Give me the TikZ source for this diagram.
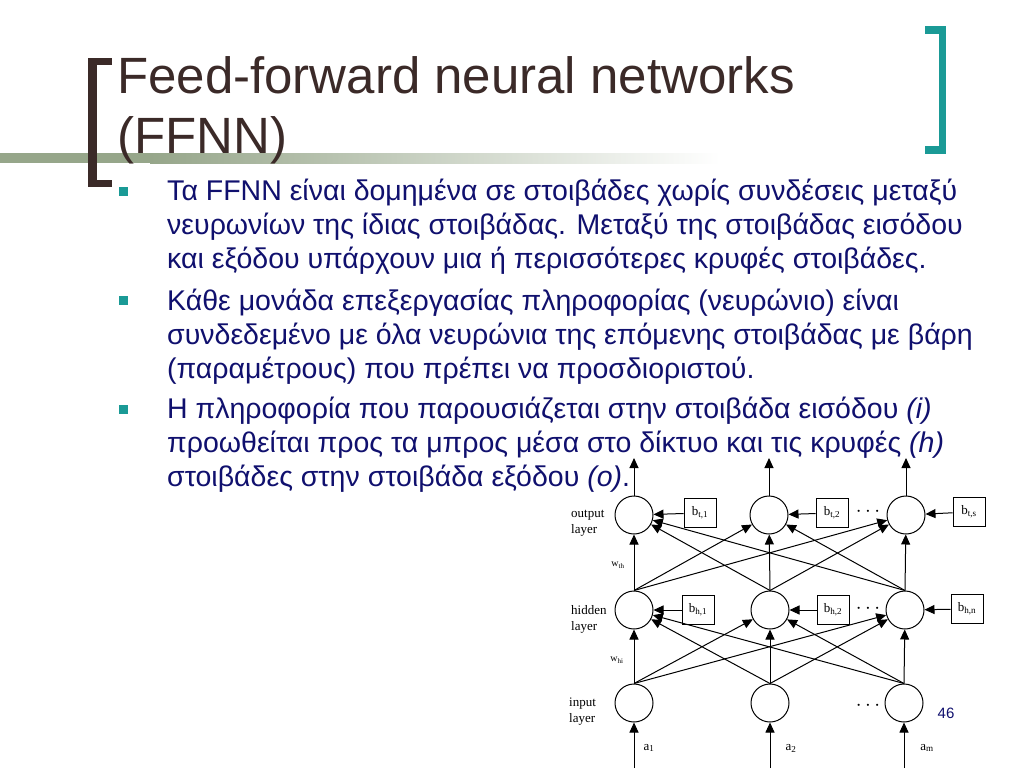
\documentclass[tikz,border=0pt]{standalone}
\usepackage{fontspec}
\setmainfont{Liberation Sans}
\newfontfamily\tms{Liberation Serif}
\usetikzlibrary{arrows.meta}
\definecolor{titlec}{RGB}{59,42,40}
\definecolor{bodyc}{RGB}{16,16,110}
\definecolor{tealc}{RGB}{26,154,150}
\definecolor{barc}{RGB}{150,166,138}
\begin{document}
\begin{tikzpicture}[x=1pt,y=-1pt,
  neuron/.style={circle, draw, line width=1pt, minimum size=38pt, inner sep=0pt},
  biasbox/.style={draw, line width=1pt, minimum width=32pt, minimum height=29pt, inner sep=0pt, font=\tms\fontsize{13}{13}\selectfont},
  conn/.style={line width=1pt, -{Triangle[length=10pt,width=9pt]}},
  lbl/.style={font=\tms\fontsize{13}{16}\selectfont, align=left, anchor=west, inner sep=0pt},
  small/.style={font=\tms\fontsize{13}{13}\selectfont, inner sep=0pt},
  wlabel/.style={font=\tms\fontsize{10}{10}\selectfont, inner sep=0pt},
  dots/.style={font=\fontsize{21}{21}\selectfont, inner sep=0pt},
  body/.style={anchor=base west, inner sep=0pt, text=bodyc, font=\fontsize{28.5}{28.5}\selectfont},
  titletext/.style={anchor=base west, inner sep=0pt, text=titlec, font=\fontsize{51}{51}\selectfont},
  bullet/.style={fill=tealc, minimum size=9pt, inner sep=0pt}
]
\useasboundingbox (0,0) rectangle (1024,768);
\fill[white] (0,0) rectangle (1024,768);
% gradient bar
\fill[barc] (0,153) rectangle (150,163);
\shade[left color=barc, right color=white] (150,153) rectangle (720,163);
% brackets
\fill[titlec] (88,58) rectangle (97,187);
\fill[titlec] (88,58) rectangle (112,65);
\fill[titlec] (88,180) rectangle (112,187);
\fill[tealc] (939,26) rectangle (946,154);
\fill[tealc] (925,26) rectangle (946,34);
\fill[tealc] (925,146) rectangle (946,154);
% title
\node[titletext] (title1) at (117,93) {Feed-forward neural networks};
\node[titletext] (title2) at (117,153) {(FFNN)};
% bullets
\node[bullet] (bu1) at (123,191) {};
\node[bullet] (bu2) at (123,300) {};
\node[bullet] (bu3) at (123,409) {};
% body text
\node[body] (l1) at (167,200) {Τα FFNN είναι δομημένα σε στοιβάδες χωρίς συνδέσεις μεταξύ};
\node[body] (l2) at (167,234) {νευρωνίων της ίδιας στοιβάδας. Μεταξύ της στοιβάδας εισόδου};
\node[body] (l3) at (167,268) {και εξόδου υπάρχουν μια ή περισσότερες κρυφές στοιβάδες.};
\node[body] (l4) at (167,310) {Κάθε μονάδα επεξεργασίας πληροφορίας (νευρώνιο) είναι};
\node[body] (l5) at (167,344) {συνδεδεμένο με όλα νευρώνια της επόμενης στοιβάδας με βάρη};
\node[body] (l6) at (167,378) {(παραμέτρους) που πρέπει να προσδιοριστού.};
\node[body] (l7) at (167,418) {Η πληροφορία που παρουσιάζεται στην στοιβάδα εισόδου \textit{(i)}};
\node[body] (l8) at (167,452) {προωθείται προς τα μπρος μέσα στο δίκτυο και τις κρυφές \textit{(h)}};
\node[body] (l9) at (167,486) {στοιβάδες στην στοιβάδα εξόδου \textit{(o)}.};
% neurons
\node[neuron] (o1) at (634,515) {};
\node[neuron] (o2) at (769,515) {};
\node[neuron] (o3) at (906,515) {};
\node[neuron] (h1) at (634,610) {};
\node[neuron] (h2) at (770,610) {};
\node[neuron] (h3) at (905,610) {};
\node[neuron] (i1) at (634,703) {};
\node[neuron] (i2) at (770,703) {};
\node[neuron] (i3) at (904,703) {};
% bias boxes
\node[biasbox] (bt1) at (700,513) {b\textsubscript{t,1}};
\node[biasbox] (bt2) at (832,513) {b\textsubscript{t,2}};
\node[biasbox] (bts) at (969,512) {b\textsubscript{t,s}};
\node[biasbox] (bh1) at (698,610) {b\textsubscript{h,1}};
\node[biasbox] (bh2) at (833,610) {b\textsubscript{h,2}};
\node[biasbox] (bhn) at (967,609) {b\textsubscript{h,n}};
% dots
\node[dots] (d1) at (868,512) {$\cdots$};
\node[dots] (d2) at (868,609) {$\cdots$};
\node[dots] (d3) at (868,706) {$\cdots$};
% layer labels
\node[lbl] (lo) at (571,523) {output\\layer};
\node[lbl] (lh) at (571,619) {hidden\\layer};
\node[lbl] (li) at (569,712) {input\\layer};
\node[wlabel] (wth) at (618,565) {w\textsubscript{th}};
\node[wlabel] (whi) at (617,660) {w\textsubscript{hi}};
% connections
\foreach \a in {h1,h2,h3} \foreach \b in {o1,o2,o3} \draw[conn] (\a.north) -- (\b);
\foreach \a in {i1,i2,i3} \foreach \b in {h1,h2,h3} \draw[conn] (\a.north) -- (\b);
\draw[conn] (bt1) -- (o1);
\draw[conn] (bt2) -- (o2);
\draw[conn] (bts) -- (o3);
\draw[conn] (bh1) -- (h1);
\draw[conn] (bh2) -- (h2);
\draw[conn] (bhn) -- (h3);
% outputs
\coordinate (u1) at (634,458);
\coordinate (u2) at (769,458);
\coordinate (u3) at (906,458);
\draw[conn] (o1) -- (u1);
\draw[conn] (o2) -- (u2);
\draw[conn] (o3) -- (u3);
% inputs
\coordinate (a1) at (634,768);
\coordinate (a2) at (770,768);
\coordinate (a3) at (904,768);
\draw[conn] (a1) -- (i1);
\draw[conn] (a2) -- (i2);
\draw[conn] (a3) -- (i3);
\node[small] (la1) at (649,748) {a\textsubscript{1}};
\node[small] (la2) at (791,748) {a\textsubscript{2}};
\node[small] (la3) at (927,748) {a\textsubscript{m}};
\node[inner sep=0pt, text=bodyc, font=\fontsize{15}{15}\selectfont] (pg) at (946,713) {46};
\end{tikzpicture}
\end{document}
